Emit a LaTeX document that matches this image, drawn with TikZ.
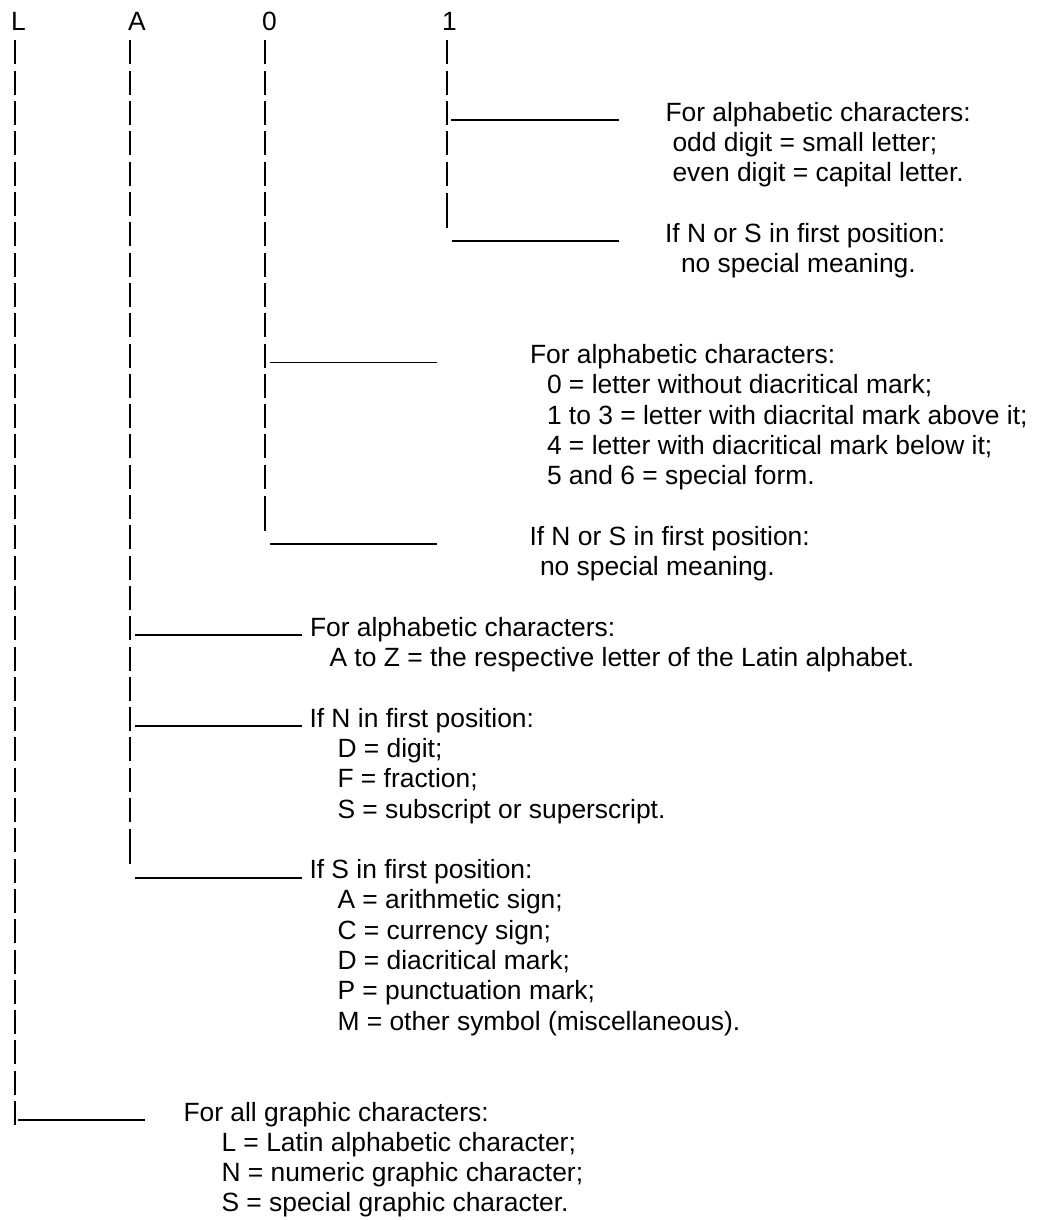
\documentclass[tikz,border=0pt]{standalone}
\usepackage{fontspec}
\setmainfont{Liberation Sans}
\usetikzlibrary{positioning}

\newlength{\px}
\setlength{\px}{0.5pt}

\begin{document}
\begin{tikzpicture}[x=0.5pt, y=-0.5pt,
    every node/.style={inner sep=0pt, outer sep=0pt, anchor=base west, align=left,
      font=\fontsize{13.2}{15.15}\selectfont},
    bar/.style={line width=1pt, dash pattern=on 24\px off 6.3\px},
    longbar/.style={line width=1pt},
    branch/.style={line width=0.9pt}]

    \useasboundingbox (0,0) rectangle (1044,1220);

    % Header
    \node (L) at (11,30.2) {L};
    \node (A) at (128,30.2) {A};
    \node (zero) at (262,30.2) {0};
    \node (one) at (442,30.2) {1};

    % Texts (placed at the baseline of their last line)
    \node (oneA) at (665.5,181.7) {For alphabetic characters:\\
      \hspace*{7\px}odd digit = small letter;\\
      \hspace*{7\px}even digit = capital letter.};
    \node (oneB) at (665,272.6) {If N or S in first position:\\
      \hspace*{16\px}no special meaning.};
    \node (zeroA) at (530,484.7) {For alphabetic characters:\\
      \hspace*{17\px}0 = letter without diacritical mark;\\
      \hspace*{17\px}1 to 3 = letter with diacrital mark above it;\\
      \hspace*{17\px}4 = letter with diacritical mark below it;\\
      \hspace*{17\px}5 and 6 = special form.};
    \node (zeroB) at (529.5,575.6) {If N or S in first position:\\
      \hspace*{10.5\px}no special meaning.};
    \node (AA) at (310,666.5) {For alphabetic characters:\\
      \hspace*{19.5\px}A to Z = the respective letter of the Latin alphabet.};
    \node (AB) at (309.5,818) {If N in first position:\\
      \hspace*{28\px}D = digit;\\
      \hspace*{28\px}F = fraction;\\
      \hspace*{28\px}S = subscript or superscript.};
    \node (AC) at (309.5,1030.1) {If S in first position:\\
      \hspace*{28\px}A = arithmetic sign;\\
      \hspace*{28\px}C = currency sign;\\
      \hspace*{28\px}D = diacritical mark;\\
      \hspace*{28\px}P = punctuation mark;\\
      \hspace*{28\px}M = other symbol (miscellaneous).};
    \node (LA) at (183.5,1211.9) {For all graphic characters:\\
      \hspace*{38\px}L = Latin alphabetic character;\\
      \hspace*{38\px}N = numeric graphic character;\\
      \hspace*{38\px}S = special graphic character.};

    % Columns
    \coordinate (oneTop) at (447,40.5);
    \coordinate (oneEnd) at (447,185.7);
    \coordinate (zeroTop) at (265,40.5);
    \coordinate (zeroEnd) at (265,488.7);
    \coordinate (ATop) at (130,40.5);
    \coordinate (AEnd) at (130,822);
    \coordinate (LTop) at (15,40.5);
    \coordinate (LEnd) at (15,1125);

    \draw[bar] (oneTop) -- (oneEnd);
    \draw[bar] (zeroTop) -- (zeroEnd);
    \draw[bar] (ATop) -- (AEnd);
    \draw[bar] (LTop) -- (LEnd);

    % Long bars
    \coordinate (oneLa) at (447,193);
    \coordinate (oneLb) at (447,228);
    \coordinate (zeroLa) at (265,496);
    \coordinate (zeroLb) at (265,531);
    \coordinate (ALa) at (130,829.3);
    \coordinate (ALb) at (130,864.3);
    \draw[longbar] (oneLa) -- (oneLb);
    \draw[longbar] (zeroLa) -- (zeroLb);
    \draw[longbar] (ALa) -- (ALb);

    % Branches
    \coordinate (oneJa) at (451,120.1);
    \coordinate (oneJb) at (452,241.3);
    \coordinate (zeroJa) at (270,362.5);
    \coordinate (zeroJb) at (270,544.3);
    \coordinate (AJa) at (135,635.2);
    \coordinate (AJb) at (135,726.1);
    \coordinate (AJc) at (135,877.6);
    \coordinate (LJ) at (18,1120);

    \draw[branch, shorten >=46.5\px] (oneJa) -- (oneJa -| oneA.west);
    \draw[branch, shorten >=46\px] (oneJb) -- (oneJb -| oneB.west);
    \draw[branch, shorten >=93\px] (zeroJa) -- (zeroJa -| zeroA.west);
    \draw[branch, shorten >=92.5\px] (zeroJb) -- (zeroJb -| zeroB.west);
    \draw[branch, shorten >=8\px] (AJa) -- (AJa -| AA.west);
    \draw[branch, shorten >=7.5\px] (AJb) -- (AJb -| AB.west);
    \draw[branch, shorten >=7.5\px] (AJc) -- (AJc -| AC.west);
    \draw[branch, shorten >=38.5\px] (LJ) -- (LJ -| LA.west);
\end{tikzpicture}
\end{document}
